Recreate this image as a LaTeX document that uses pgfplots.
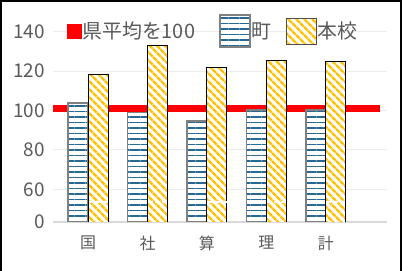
\documentclass[border=0pt]{standalone}
\usepackage{pgfplots}
\pgfplotsset{compat=1.18}
\usetikzlibrary{patterns.meta}
\usepackage{fontspec}
\setmainfont{Noto Sans CJK JP}
\definecolor{ticktext}{HTML}{595959}
\definecolor{townblue}{RGB}{40,105,145}
\definecolor{gold}{HTML}{FFC000}
\definecolor{gridc}{HTML}{EBEBEB}
\definecolor{axisc}{HTML}{D9D9D9}
\begin{document}
\begin{tikzpicture}
\useasboundingbox (0,0) rectangle (404bp,271bp);
\draw[black, line width=2bp] (1bp,0) -- (1bp,270bp) -- (401bp,270bp) -- (401bp,0);
\begin{axis}[
  at={(53bp,49bp)}, anchor=south west,
  scale only axis, width=334bp, height=206bp,
  xmin=-0.59, xmax=5.03, ymin=43.4, ymax=148,
  axis x line*=bottom, axis y line*=left,
  x axis line style={draw=axisc, line width=1.5bp, -},
  y axis line style={draw=none},
  ytick={43.4,60,80,100,120,140},
  yticklabels={0,60,80,100,120,140},
  xtick={0,1,2,3,4},
  xticklabels={国,社,算,理,計},
  ymajorgrids, grid style={draw=gridc, line width=1bp},
  major tick length=0pt,
  unbounded coords=jump,
  /pgf/number format/assume math mode=true,
  yticklabel style={font=\fontsize{19}{19}\selectfont, text=ticktext, anchor=east, inner sep=0pt, xshift=-8bp},
  xticklabel style={font=\fontsize{16}{16}\selectfont, text=ticktext, anchor=north, inner sep=0pt, yshift=-13.5bp},
  legend style={draw=none, fill=none, at={(axis description cs:0.042,0.927)}, anchor=west,
    inner sep=0pt, legend columns=3,
    nodes={inner sep=1bp, font=\fontsize{20}{20}\selectfont, text=ticktext},
    /tikz/every even column/.append style={column sep=11bp}},
  legend cell align=left,
]
\addplot[red, line width=7bp,
  legend image code/.code={\fill[red, line width=0pt] (0bp,-7bp) rectangle (14bp,7bp);}]
  coordinates {(-0.59,101) (4.92,101)};
\addlegendentry{県平均を100\hbox to 12bp{}}
\addplot[ybar, bar width=20bp, bar shift=-10bp,
  draw=gray, line width=1.5bp,
  preaction={fill=white},
  preaction={pattern={Lines[angle=0,distance=5.5bp,line width=1.3bp]}, pattern color=townblue},
  legend image code/.code={\draw[draw=gray, line width=1.5bp, preaction={fill=white},
    preaction={pattern={Lines[angle=0,distance=5.5bp,line width=1.3bp]}, pattern color=townblue}]
    (0bp,-16bp) rectangle (30bp,16bp);}]
  coordinates {(0,103.7) (1,98.9) (2,94.8) (3,100.3) (4,100.3)};
\addlegendentry{町\hbox to 2bp{}}
\addplot[ybar, bar width=20bp, bar shift=10bp,
  draw=black, line width=1bp,
  preaction={fill=white},
  preaction={pattern={Lines[angle=-45,distance=6bp,line width=3bp]}, pattern color=gold},
  legend image code/.code={\draw[draw=black!70, line width=1bp, preaction={fill=white},
    preaction={pattern={Lines[angle=-45,distance=6bp,line width=3bp]}, pattern color=gold}]
    (0bp,-13bp) rectangle (30bp,13bp);}]
  coordinates {(0,118.2) (1,133.2) (2,121.6) (3,125.6) (4,125.0)};
\addlegendentry{本校}
\addplot[white, line width=1.3bp, dash pattern=on 5bp off 2bp, forget plot] coordinates {
  (0.01,53.6) (0.33,53.6) (0.5,nan)
  (1.01,53.6) (1.33,53.6) (1.5,nan)
  (2.01,53.6) (2.33,53.6) (2.5,nan)
  (3.01,53.6) (3.33,53.6) (3.5,nan)
  (4.01,53.6) (4.33,53.6)};
\end{axis}
\end{tikzpicture}
\end{document}
